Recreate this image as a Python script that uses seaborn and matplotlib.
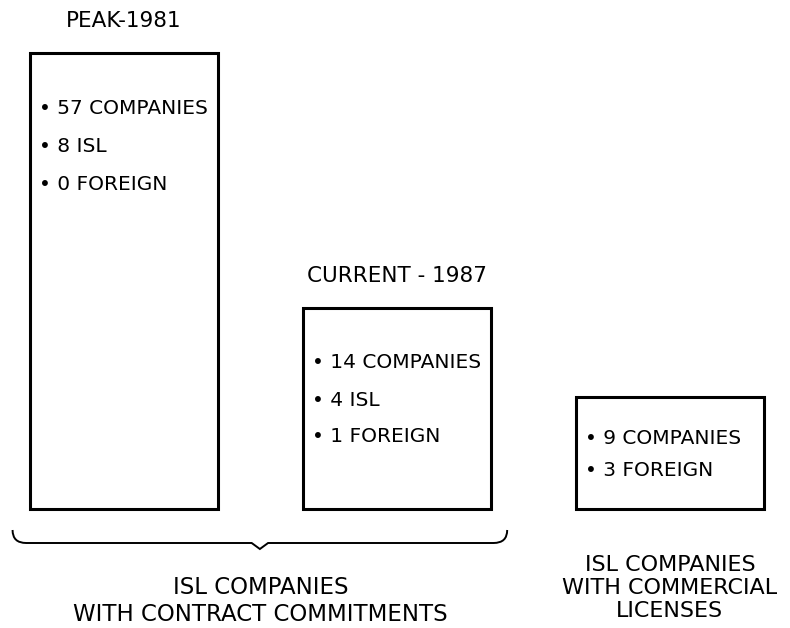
import matplotlib.pyplot as plt
import matplotlib.patches as mpatches
from matplotlib.path import Path
import pandas as pd
import seaborn as sns

# values
categories = ["PEAK-1981", "CURRENT - 1987", "COMMERCIAL"]
box_heights = [456, 201, 112]          # drawn heights, arbitrary units
companies = [57, 14, 9]
isl_counts = [8, 4, None]
foreign_counts = [0, 1, 3]
show_title = [True, True, False]
group_labels = ["ISL COMPANIES\nWITH CONTRACT COMMITMENTS",
                "ISL COMPANIES\nWITH COMMERCIAL\nLICENSES"]

BAR_WIDTH = 0.69
FONT = "DejaVu Sans"


def bullet_lines(i: int) -> list[str]:
    lines = [f"{companies[i]} COMPANIES"]
    if isl_counts[i] is not None:
        lines.append(f"{isl_counts[i]} ISL")
    lines.append(f"{foreign_counts[i]} FOREIGN")
    return ["\u2022 " + s for s in lines]


def draw_brace(ax, left: float, right: float, y: float) -> None:
    mid = (left + right) / 2
    verts = [
        (left, y + 13), (left, y), (left + 0.05, y),
        (mid - 0.03, y), (mid, y - 6), (mid + 0.03, y),
        (right - 0.05, y), (right, y), (right, y + 13),
    ]
    codes = [Path.MOVETO, Path.CURVE3, Path.CURVE3,
             Path.LINETO, Path.LINETO, Path.LINETO,
             Path.LINETO, Path.CURVE3, Path.CURVE3]
    ax.add_patch(mpatches.PathPatch(Path(verts, codes), fill=False,
                                    edgecolor="black", linewidth=1.4))


def main() -> None:
    sns.set_style("white")
    plt.rcParams["font.family"] = [FONT]
    plt.rcParams["text.color"] = "black"

    df = pd.DataFrame({"category": categories, "height": box_heights})

    fig = plt.figure(figsize=(7.9, 6.28), dpi=100)
    ax = fig.add_axes([0, 0, 1, 1])
    sns.barplot(data=df, x="category", y="height", color="white",
                edgecolor="black", linewidth=2.2, width=BAR_WIDTH,
                saturation=1, ax=ax)

    ax.set_xlim(-0.454, 2.44)
    ax.set_ylim(-119, 509)
    ax.set_axis_off()

    first_offset = [55, 55, 41]
    spacing = [38, 37, 32]
    for i, h in enumerate(box_heights):
        if show_title[i]:
            ax.text(i, h + 32, categories[i], ha="center", va="center",
                    fontsize=15.5)
        x0 = i - BAR_WIDTH / 2 + 0.035
        for k, line in enumerate(bullet_lines(i)):
            ax.text(x0, h - first_offset[i] - k * spacing[i], line,
                    ha="left", va="center", fontsize=14.5)

    draw_brace(ax, 0 - BAR_WIDTH / 2 - 0.063, 1 + BAR_WIDTH / 2 + 0.059, -34)

    ax.text(0.5, -92, group_labels[0], ha="center", va="center",
            fontsize=16.5, linespacing=1.18)
    ax.text(2.0, -79, group_labels[1], ha="center", va="center",
            fontsize=16, linespacing=1.2)

    fig.savefig("out.png", dpi=100)
    plt.close(fig)


if __name__ == "__main__":
    main()
